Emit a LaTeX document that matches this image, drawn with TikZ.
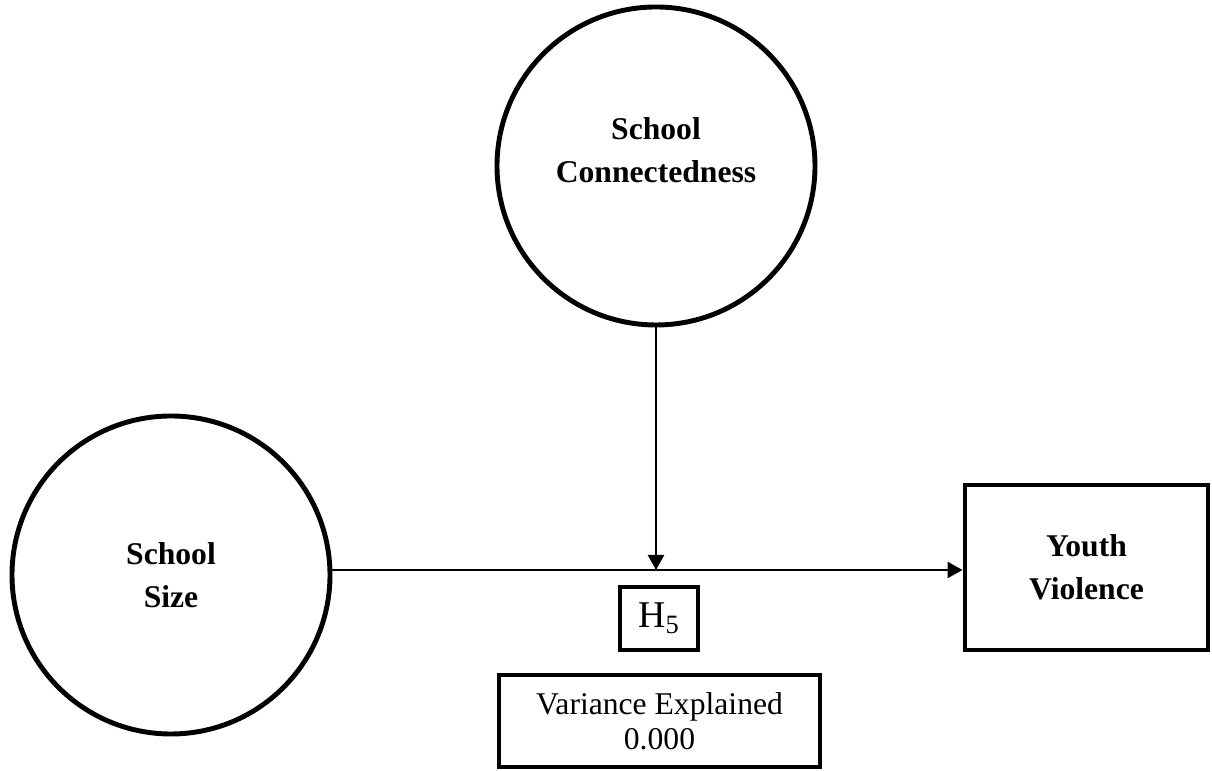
\documentclass[tikz,border=0pt]{standalone}
\usepackage{fontspec}
\setmainfont{Liberation Serif}
\usepackage{tikz}
\usetikzlibrary{arrows.meta}

\begin{document}
\begin{tikzpicture}[
    latentVar/.style={draw, circle, line width=2.8pt, minimum size=6.36cm, inner sep=0pt},
    obsBox/.style={draw, rectangle, line width=2.8pt, inner sep=0pt},
    boldText/.style={font=\fontsize{18}{24.5}\selectfont\bfseries, align=center},
    plainText/.style={font=\fontsize{18}{20}\selectfont, align=center},
    path/.style={line width=1.4pt, -{Triangle[length=0.3cm, width=0.32cm]}}
]
    \useasboundingbox (0, 0) rectangle (24.24, 15.42);
    \node[latentVar] (conn) at (13.12, 12.10) {};
    \node[boldText] (connText) at (13.12, 12.42) {School\\Connectedness};
    \node[latentVar, boldText] (size) at (3.42, 3.92) {School\\Size};
    \node[obsBox, boldText, minimum width=4.86cm, minimum height=3.3cm] (youth) at (21.73, 4.07) {Youth\\Violence};
    \node[obsBox, line width=2.3pt, minimum width=1.56cm, minimum height=1.26cm,
          font=\fontsize{21.5}{24}\selectfont] (hyp) at (13.18, 3.05) {H\textsubscript{5}};
    \node[obsBox, plainText, minimum width=6.42cm, minimum height=1.84cm] (var) at (13.19, 1.0) {Variance Explained\\0.000};
    \coordinate (mod) at (conn.south |- 0, 4.02);
    \draw[path] (size.east |- mod) -- (youth.west |- mod);
    \draw[path] (conn.south) -- (mod);
\end{tikzpicture}
\end{document}
